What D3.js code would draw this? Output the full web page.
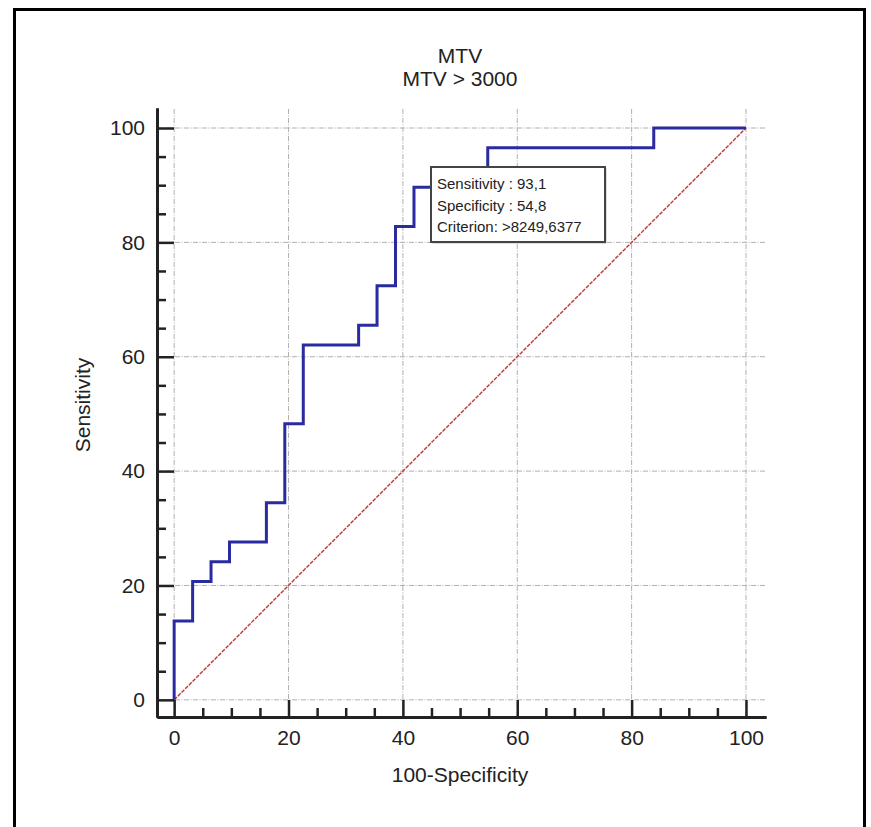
<!DOCTYPE html>
<html>
<head>
<meta charset="utf-8">
<script src="https://cdn.jsdelivr.net/npm/d3@7"></script>
<style>
  body { margin: 0; background: #fff; }
  svg text { font-family: "Liberation Sans", Arial, sans-serif; fill: #222; }
</style>
</head>
<body>
<div id="chart"></div>
<script>
//ROC operating points (100-Specificity, Sensitivity)
var fprValues = [0, 0, 3.23, 6.45, 9.68, 16.13, 19.35, 22.58, 32.26, 35.48, 38.71, 41.94, 45.16, 54.84, 83.87, 100];
var tprValues = [0, 13.79, 20.69, 24.14, 27.59, 34.48, 48.28, 62.07, 65.52, 72.41, 82.76, 89.66, 93.10, 96.55, 100, 100];
var majorTicks = [0, 20, 40, 60, 80, 100];
var minorTicks = [5, 10, 15, 25, 30, 35, 45, 50, 55, 65, 70, 75, 85, 90, 95];
var titleLines = ['MTV', 'MTV > 3000'];
var infoLines = ['Sensitivity : 93,1', 'Specificity : 54,8', 'Criterion: >8249,6377'];

var width = 871, height = 827;

var svg = d3.select('#chart').append('svg')
    .attr('width', width)
    .attr('height', height);

//outer frame (bottom edge is cut off in the original)
svg.append('path')
    .attr('d', 'M14.5,830 L14.5,9.5 L864.5,9.5 L864.5,830')
    .attr('fill', 'none')
    .attr('stroke', '#000')
    .attr('stroke-width', 3);

//scales
var x = d3.scaleLinear().domain([-3, 103.5]).range([157, 766]);
var y = d3.scaleLinear().domain([-3, 103.5]).range([717, 108]);

//grid lines
var grid = svg.append('g').attr('stroke', '#b0b0b0').attr('stroke-width', 1)
    .attr('stroke-dasharray', '5,1.5,1,1.5');
grid.selectAll('.gx').data(majorTicks).enter().append('line')
    .attr('x1', function (d) { return x(d); })
    .attr('x2', function (d) { return x(d); })
    .attr('y1', y.range()[0]).attr('y2', y.range()[1]);
grid.selectAll('.gy').data(majorTicks).enter().append('line')
    .attr('y1', function (d) { return y(d); })
    .attr('y2', function (d) { return y(d); })
    .attr('x1', x.range()[0]).attr('x2', x.range()[1]);

//diagonal reference line
svg.append('line')
    .attr('x1', x(0)).attr('y1', y(0))
    .attr('x2', x(100)).attr('y2', y(100))
    .attr('stroke', '#c03535')
    .attr('stroke-width', 1.4)
    .attr('stroke-dasharray', '4,1.2');

//roc curve
var rocLine = d3.line()
    .x(function (d, i) { return x(fprValues[i]); })
    .y(function (d, i) { return y(tprValues[i]); })
    .curve(d3.curveStepAfter);

svg.append('path')
    .datum(fprValues)
    .attr('d', rocLine)
    .attr('fill', 'none')
    .attr('stroke', '#2b2ba0')
    .attr('stroke-width', 3);

//axes
function styleAxis(g, showLabels) {
    g.select('.domain').attr('stroke', '#222').attr('stroke-width', 3);
    g.selectAll('.tick line').attr('stroke', '#222').attr('stroke-width', 2.5);
    g.selectAll('.tick text')
        .attr('fill', '#222')
        .style('font-size', '21px')
        .style('font-family', '"Liberation Sans", Arial, sans-serif');
    if (!showLabels) g.selectAll('.tick text').remove();
}

var xAxisG = svg.append('g').attr('transform', 'translate(0,717)')
    .call(d3.axisBottom(x).tickValues(majorTicks).tickSize(-17).tickSizeOuter(0).tickPadding(13));
styleAxis(xAxisG, true);
var xMinorG = svg.append('g').attr('transform', 'translate(0,717)')
    .call(d3.axisBottom(x).tickValues(minorTicks).tickSize(-9).tickSizeOuter(0));
styleAxis(xMinorG, false);

var yAxisG = svg.append('g').attr('transform', 'translate(157,0)')
    .call(d3.axisLeft(y).tickValues(majorTicks).tickSize(-17).tickSizeOuter(0).tickPadding(12));
styleAxis(yAxisG, true);
var yMinorG = svg.append('g').attr('transform', 'translate(157,0)')
    .call(d3.axisLeft(y).tickValues(minorTicks).tickSize(-9).tickSizeOuter(0));
styleAxis(yMinorG, false);

//titles
svg.selectAll('.title').data(titleLines).enter().append('text')
    .attr('x', 460)
    .attr('y', function (d, i) { return 63 + i * 23; })
    .attr('text-anchor', 'middle')
    .style('font-size', '21px')
    .text(function (d) { return d; });

//axis titles
svg.append('text')
    .attr('x', 460).attr('y', 782)
    .attr('text-anchor', 'middle')
    .style('font-size', '21px')
    .text('100-Specificity');

svg.append('text')
    .attr('transform', 'translate(90,405) rotate(-90)')
    .attr('text-anchor', 'middle')
    .style('font-size', '21px')
    .text('Sensitivity');

//criterion info box
var info = svg.append('g').attr('transform', 'translate(431,167)');
info.append('rect')
    .attr('x', 1.5).attr('y', 1.5)
    .attr('width', 174).attr('height', 75)
    .attr('fill', '#bbb');
info.append('rect')
    .attr('width', 174).attr('height', 75)
    .attr('fill', '#fff')
    .attr('stroke', '#444')
    .attr('stroke-width', 2);
info.selectAll('text').data(infoLines).enter().append('text')
    .attr('x', 6)
    .attr('y', function (d, i) { return 22 + i * 21.5; })
    .style('font-size', '15px')
    .attr('fill', '#333')
    .text(function (d) { return d; });
</script>
</body>
</html>
